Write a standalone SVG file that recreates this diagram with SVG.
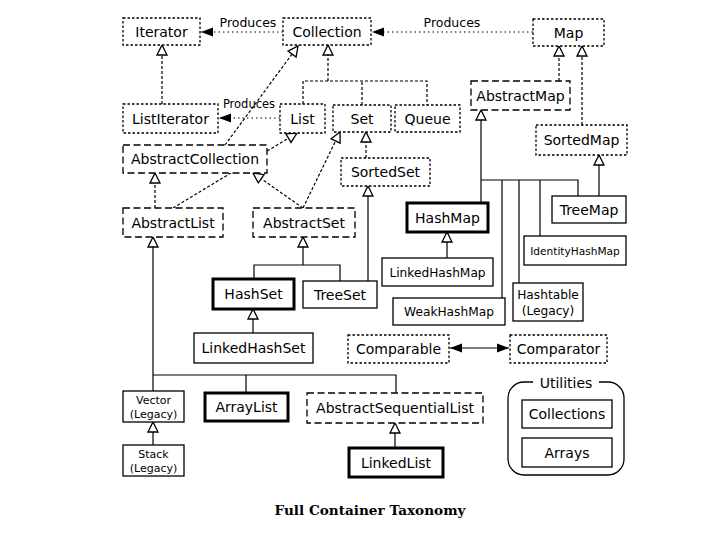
<svg xmlns="http://www.w3.org/2000/svg" width="711" height="536" viewBox="0 0 711 536">
<style>
  .bg { fill: #ffffff; }
  rect.n { fill: #ffffff; stroke: #000; stroke-width: 1.3; }
  rect.dot { stroke-dasharray: 2.5 2; }
  rect.dash { stroke-dasharray: 7 3.5; }
  rect.thick { stroke-width: 3; }
  text { font-family: "DejaVu Sans", Verdana, sans-serif; font-size: 14px; fill: #000; text-anchor: middle; }
  text.sm { font-size: 11px; }
  text.md { font-size: 12.2px; }
  text.lbl { font-size: 12.5px; }
  .c { fill: none; stroke: #000; stroke-width: 1.2; }
  .cd { stroke-dasharray: 3 2; }
  .cp { stroke-dasharray: 1.5 3; }
  .cap { font-family: "DejaVu Serif", "Liberation Serif", serif; font-weight: bold; font-size: 13.6px; }
</style>
<defs>
  <marker id="tri" markerUnits="userSpaceOnUse" markerWidth="12" markerHeight="12" refX="11" refY="5" orient="auto" overflow="visible">
    <path d="M1,0 L11,5 L1,10 Z" fill="#fff" stroke="#000" stroke-width="1.3" stroke-dasharray="none"/>
  </marker>
  <marker id="arr" markerUnits="userSpaceOnUse" markerWidth="13" markerHeight="10" refX="12" refY="4.5" orient="auto" overflow="visible">
    <path d="M0,0 L12,4.5 L0,9 Z" fill="#000" stroke="none"/>
  </marker>
  <marker id="arrs" markerUnits="userSpaceOnUse" markerWidth="13" markerHeight="10" refX="0" refY="4.5" orient="auto" overflow="visible">
    <path d="M12,0 L0,4.5 L12,9 Z" fill="#000" stroke="none"/>
  </marker>
</defs>
<rect class="bg" x="0" y="0" width="711" height="536"/>

<g id="connectors">
  <!-- Produces -->
  <path class="c cp" d="M283,32 H201" marker-end="url(#arr)"/>
  <path class="c cp" d="M533,32 H372" marker-end="url(#arr)"/>
  <path class="c cp" d="M280,118 H219" marker-end="url(#arr)"/>
  <text class="lbl" x="248" y="27">Produces</text>
  <text class="lbl" x="452" y="27">Produces</text>
  <text class="lbl" x="249" y="108" style="font-size:11.5px">Produces</text>

  <!-- interface inheritance (dashed) -->
  <path class="c cd" d="M162,104 V45" marker-end="url(#tri)"/>
  <path class="c cd" d="M303,104 V81 H427 V105 M362,105 V81"/>
  <path class="c cd" d="M328,81 V45" marker-end="url(#tri)"/>
  <path class="c cd" d="M225,145 L298,46" marker-end="url(#tri)"/>
  <path class="c cd" d="M155,208 V173" marker-end="url(#tri)"/>
  <path class="c cd" d="M173,208 L297,133" marker-end="url(#tri)"/>
  <path class="c cd" d="M303,208 L253,173" marker-end="url(#tri)"/>
  <path class="c cd" d="M303,208 L340,132" marker-end="url(#tri)"/>
  <path class="c cd" d="M366,158 V132" marker-end="url(#tri)"/>
  <path class="c cd" d="M559,81 V46" marker-end="url(#tri)"/>
  <path class="c cd" d="M582,125 V46" marker-end="url(#tri)"/>

  <!-- implementation (solid) -->
  <path class="c" d="M481,203 V110" marker-end="url(#tri)"/>
  <path class="c" d="M481,180 H578 V196 M502,180 V298 M519,180 V283 M540,180 V236"/>
  <path class="c" d="M447,258 V232" marker-end="url(#tri)"/>
  <path class="c" d="M599,196 V155" marker-end="url(#tri)"/>
  <path class="c" d="M368,281 V186" marker-end="url(#tri)"/>
  <path class="c" d="M303,265 V237" marker-end="url(#tri)"/>
  <path class="c" d="M254,279 V265 H340 V281"/>
  <path class="c" d="M253,333 V309" marker-end="url(#tri)"/>
  <path class="c" d="M153,391 V237" marker-end="url(#tri)"/>
  <path class="c" d="M153,375 H396 V393 M246,375 V393"/>
  <path class="c" d="M153,445 V422" marker-end="url(#tri)"/>
  <path class="c" d="M395,448 V423" marker-end="url(#tri)"/>
  <path class="c" d="M450,348 H509" stroke-width="1.5" marker-start="url(#arrs)" marker-end="url(#arr)"/>
</g>

<g id="Iterator"><rect class="n dot" x="123" y="18" width="77" height="27"/><text x="161.5" y="36.5">Iterator</text></g>
<g id="Collection"><rect class="n dot" x="283" y="18" width="88" height="27"/><text x="327" y="36.5">Collection</text></g>
<g id="Map"><rect class="n dot" x="533" y="19" width="71" height="27"/><text x="568.5" y="37.5">Map</text></g>
<g id="ListIterator"><rect class="n dot" x="123" y="104" width="95" height="29"/><text x="170.5" y="123.5">ListIterator</text></g>
<g id="List"><rect class="n dot" x="280" y="104" width="45" height="29"/><text x="302.5" y="123.5">List</text></g>
<g id="Set"><rect class="n dot" x="333" y="105" width="58" height="27"/><text x="362" y="123.5">Set</text></g>
<g id="Queue"><rect class="n dot" x="395" y="105" width="65" height="27"/><text x="427.5" y="123.5">Queue</text></g>
<g id="AbstractMap"><rect class="n dash" x="471" y="81" width="99" height="29"/><text x="520.5" y="100.5">AbstractMap</text></g>
<g id="AbstractCollection"><rect class="n dash" x="123" y="145" width="144" height="28"/><text x="195" y="164">AbstractCollection</text></g>
<g id="SortedSet"><rect class="n dot" x="341" y="158" width="89" height="28"/><text x="385.5" y="177">SortedSet</text></g>
<g id="SortedMap"><rect class="n dot" x="536" y="125" width="91" height="30"/><text x="581.5" y="145">SortedMap</text></g>
<g id="AbstractList"><rect class="n dash" x="123" y="208" width="100" height="29"/><text x="173" y="227.5">AbstractList</text></g>
<g id="AbstractSet"><rect class="n dash" x="253" y="208" width="102" height="29"/><text x="304" y="227.5">AbstractSet</text></g>
<g id="HashMap"><rect class="n thick" x="407" y="203" width="81" height="29"/><text x="447.5" y="222.5">HashMap</text></g>
<g id="TreeMap"><rect class="n" x="552" y="196" width="74" height="27"/><text x="589" y="214.5">TreeMap</text></g>
<g id="IdentityHashMap"><rect class="n" x="524" y="236" width="102" height="29"/><text class="sm" x="575" y="254.5" style="font-size:10.6px">IdentityHashMap</text></g>
<g id="LinkedHashMap"><rect class="n" x="382" y="258" width="111" height="28"/><text class="md" x="437.5" y="276.5">LinkedHashMap</text></g>
<g id="HashSet"><rect class="n thick" x="213" y="279" width="81" height="30"/><text x="253.5" y="299">HashSet</text></g>
<g id="TreeSet"><rect class="n" x="303" y="281" width="74" height="27"/><text x="340" y="299.5">TreeSet</text></g>
<g id="Hashtable"><rect class="n" x="513" y="283" width="70" height="38"/><text class="md" x="548" y="299">Hashtable</text><text class="md" x="548" y="315">(Legacy)</text></g>
<g id="WeakHashMap"><rect class="n" x="393" y="298" width="112" height="27"/><text class="md" x="449" y="316">WeakHashMap</text></g>
<g id="LinkedHashSet"><rect class="n" x="194" y="333" width="119" height="30"/><text x="253.5" y="353">LinkedHashSet</text></g>
<g id="Comparable"><rect class="n dot" x="348" y="335" width="101" height="28"/><text x="398.5" y="354">Comparable</text></g>
<g id="Comparator"><rect class="n dot" x="510" y="335" width="97" height="28"/><text x="558.5" y="354">Comparator</text></g>
<g id="Vector"><rect class="n" x="123" y="391" width="61" height="31"/><text class="sm" x="153.5" y="404">Vector</text><text class="sm" x="153.5" y="418">(Legacy)</text></g>
<g id="ArrayList"><rect class="n thick" x="205" y="393" width="83" height="28"/><text x="246.5" y="412">ArrayList</text></g>
<g id="AbstractSequentialList"><rect class="n dash" x="307" y="393" width="176" height="30"/><text x="395" y="413">AbstractSequentialList</text></g>
<g id="Stack"><rect class="n" x="123" y="445" width="61" height="31"/><text class="sm" x="153.5" y="458">Stack</text><text class="sm" x="153.5" y="472">(Legacy)</text></g>
<g id="LinkedList"><rect class="n thick" x="349" y="448" width="94" height="29"/><text x="396" y="467.5">LinkedList</text></g>
<g id="Utilities">
  <rect x="508" y="382" width="116" height="93" rx="16" ry="16" fill="none" stroke="#000" stroke-width="1.3"/>
  <rect x="533" y="374" width="66" height="16" fill="#fff"/>
  <text x="566" y="388">Utilities</text>
</g>
<g id="Collections"><rect class="n" x="522" y="400" width="90" height="28"/><text x="567" y="419">Collections</text></g>
<g id="Arrays"><rect class="n" x="522" y="438" width="90" height="29"/><text x="567" y="457.5">Arrays</text></g>

<text class="cap" x="370" y="515">Full Container Taxonomy</text>
</svg>
